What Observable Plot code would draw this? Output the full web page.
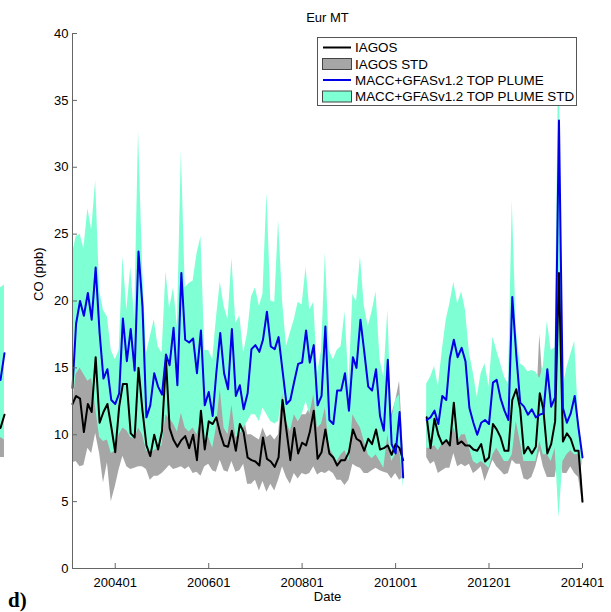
<!DOCTYPE html>
<html><head><meta charset="utf-8">
<script src="https://cdn.jsdelivr.net/npm/d3@7"></script>
<script src="https://cdn.jsdelivr.net/npm/@observablehq/plot@0.6"></script>
<style>
body{margin:0;background:#fff;}
#wrap{position:relative;width:611px;height:612px;overflow:hidden;font-family:"Liberation Sans",Arial,sans-serif;}
#wrap > svg{position:absolute;left:0;top:0;}
#panelLabel{position:absolute;left:8px;top:588px;font-family:"Liberation Serif","Times New Roman",serif;font-weight:bold;font-size:21px;line-height:24px;}
</style></head><body><div id="wrap"></div>
<script>
const title = "Eur MT";
const yLabel = "CO (ppb)";
const xLabel = "Date";
const xTickLabels = ["200401","200601","200801","201001","201201","201401"];
const yTicks = [0,5,10,15,20,25,30,35,40];
const legendLabels = ["IAGOS","IAGOS STD","MACC+GFASv1.2 TOP PLUME","MACC+GFASv1.2 TOP PLUME STD"];
const colIagos = "#000000", colIagosStd = "#a6a6a6", colMacc = "#0000e6", colMaccStd = "#7fffd4";

// monthly values Feb 2003 .. Jan 2014 (null = no data)
const iagos = [12.3,12.9,12.7,10.2,12.3,11.7,15.8,10.9,11.7,12.3,
10.6,8.7,12.1,13.8,13.8,10.1,9.8,15.0,11.8,9.2,
8.4,10.0,8.9,10.3,15.6,10.5,9.6,9.1,9.6,9.9,
9.0,10.0,8.1,11.8,8.9,11.0,10.8,11.3,10.1,9.2,
9.1,10.3,8.8,10.8,10.2,8.3,8.1,8.0,7.7,9.8,
8.2,8.0,7.6,8.3,12.6,10.3,8.1,10.5,8.6,9.4,
9.2,10.2,11.8,8.2,8.7,10.4,8.6,8.3,7.7,8.1,
8.1,8.7,10.4,9.7,9.5,8.8,9.7,9.3,10.4,8.9,
9.0,9.2,8.5,9.3,9.0,8.1,
null,null,null,null,null,
11.3,9.0,11.2,10.0,9.3,9.6,9.2,12.4,9.3,
9.5,9.2,9.2,8.9,8.8,9.3,8.0,8.3,10.8,10.4,
9.8,8.8,8.8,12.6,13.4,11.9,8.6,9.1,8.6,9.1,
13.1,11.9,8.6,9.3,11.0,22.1,9.5,10.1,9.7,8.8,8.8,5.0];
const iagosLo = [7.9,8.0,7.6,7.7,9.0,8.6,10.1,8.6,6.4,7.9,
5.0,6.1,7.4,8.4,7.6,7.4,7.5,7.6,7.6,7.4,
6.6,6.9,6.9,7.1,7.4,7.7,7.4,7.5,7.6,7.4,
7.6,7.1,7.2,6.9,7.6,7.8,7.3,7.2,8.1,7.3,
7.2,8.0,7.2,7.3,7.8,6.3,6.3,6.6,5.8,6.5,
5.7,6.3,5.8,6.6,7.6,6.8,6.3,7.1,6.7,7.1,
7.0,7.1,7.6,7.0,7.2,7.1,7.3,7.1,6.6,6.6,
6.2,6.6,7.8,7.6,7.5,7.1,7.1,7.3,7.5,7.3,
7.2,7.1,6.7,7.1,6.6,6.8,
null,null,null,null,null,
8.3,7.8,8.0,7.1,7.3,7.5,7.5,8.6,7.6,
7.8,7.6,7.8,7.1,7.3,7.6,6.5,7.3,8.1,7.6,
7.3,7.0,7.1,8.1,7.8,7.8,6.7,6.6,6.8,7.6,
8.8,7.6,6.8,6.8,6.8,8.6,7.1,7.1,7.6,7.1,6.8,4.8];
const iagosHi = [15.5,15.3,15.2,14.6,14.8,14.6,16.3,13.0,12.5,13.0,
12.5,11.5,13.5,14.5,14.5,12.0,12.0,16.3,13.5,11.5,
10.8,11.5,11.0,12.0,17.0,13.0,12.0,11.5,12.5,12.0,
11.5,12.0,11.0,13.0,11.0,12.5,12.5,13.0,13.8,11.5,
11.0,12.5,11.0,12.0,11.5,10.0,10.0,9.8,9.6,10.5,
9.8,10.0,9.6,10.0,13.5,12.0,10.5,12.5,11.0,11.5,
11.5,12.0,13.5,11.0,11.0,13.0,11.0,10.5,10.0,10.0,
10.0,10.5,11.7,11.5,11.5,11.0,11.5,11.5,12.0,11.0,
11.0,11.5,11.5,12.5,14.0,9.0,
null,null,null,null,null,
11.8,11.0,12.5,11.5,11.0,11.5,11.5,14.5,11.5,
11.5,11.0,11.0,10.5,10.5,11.0,10.0,10.5,12.5,12.0,
11.5,11.0,11.0,14.5,15.0,13.5,11.0,11.0,10.5,11.0,
17.5,13.5,11.0,11.5,12.5,24.0,11.5,12.0,11.5,11.0,11.0,6.0];
const macc = [13.5,18.3,20.0,18.9,20.6,18.6,22.5,17.6,14.2,14.9,
12.6,12.3,13.1,18.7,15.5,17.9,14.8,23.7,19.6,11.3,
12.2,14.6,13.6,13.0,16.0,15.2,18.0,13.7,22.1,17.1,
16.9,17.2,14.6,17.8,12.2,13.2,11.4,14.6,17.6,14.6,
13.4,17.9,12.9,13.7,11.9,13.1,16.4,16.7,16.2,17.1,
19.2,16.6,16.4,17.3,14.8,12.3,12.6,14.0,15.3,15.4,
17.8,15.4,16.7,12.2,12.9,18.1,11.1,10.8,13.3,13.3,
14.6,11.8,15.8,15.0,18.6,16.2,13.6,13.3,14.9,11.4,
10.3,15.6,9.3,8.6,11.7,6.8,
null,null,null,null,null,
11.1,11.3,11.8,10.8,12.9,12.6,15.7,17.1,15.8,
16.5,15.5,12.0,10.9,10.0,10.9,11.1,10.8,13.9,14.1,
12.7,11.8,11.1,20.3,16.0,12.4,12.1,11.5,11.9,11.3,
11.5,11.6,14.9,12.1,12.8,33.5,12.0,10.9,11.6,12.9,10.5,8.3];
const maccLo = [12.0,14.5,15.0,14.5,14.0,14.2,12.0,9.8,9.5,9.6,
8.6,8.8,10.0,10.5,10.3,9.8,9.7,10.5,10.0,8.8,
8.6,8.8,9.0,9.2,11.5,11.2,10.8,10.2,11.6,10.5,
10.2,10.5,10.0,11.0,9.5,9.8,9.0,10.5,13.4,10.5,
10.0,12.2,9.8,10.0,10.5,11.0,11.5,11.5,11.0,12.0,
11.5,11.0,10.8,11.0,13.0,11.0,10.2,11.5,11.0,11.5,
12.5,11.5,13.0,10.5,10.8,12.0,9.0,8.5,8.0,8.5,
8.8,8.0,11.5,11.0,10.5,9.5,8.5,8.2,8.5,8.0,
7.5,10.0,8.0,8.5,9.0,6.0,
null,null,null,null,null,
9.0,9.0,9.2,8.8,9.3,9.5,9.5,10.5,9.5,
10.0,10.0,9.0,8.0,7.8,8.0,7.8,7.5,8.5,9.0,
8.5,8.0,8.0,8.5,11.0,9.5,8.0,8.0,8.0,8.0,
9.5,8.5,8.5,8.0,9.0,3.8,8.0,8.5,8.8,8.5,8.5,7.6];
const maccHi = [23.5,24.8,25.0,23.9,26.9,25.3,29.0,20.8,19.3,18.8,
16.3,15.6,16.3,23.3,19.3,22.5,18.6,32.7,22.8,16.1,
17.3,18.6,16.6,16.1,22.2,19.4,21.0,18.1,31.2,21.0,
21.3,21.5,23.5,24.8,16.3,16.3,15.6,18.6,21.4,19.6,
18.6,23.2,18.3,18.9,16.1,17.6,20.3,21.0,19.6,20.5,
28.1,20.0,19.9,26.0,20.0,16.6,17.6,18.6,19.9,19.7,
22.5,19.3,19.9,14.6,16.3,23.6,16.3,15.6,16.3,16.6,
19.2,13.8,20.5,19.9,23.3,19.6,18.1,19.2,20.7,15.6,
14.3,19.3,11.1,12.6,13.0,7.6,
null,null,null,null,null,
13.8,14.3,15.1,13.6,16.3,18.6,19.8,21.4,19.8,
20.7,19.3,16.1,14.6,12.8,14.6,15.3,13.6,17.3,16.3,
15.3,14.3,13.8,27.5,17.9,15.3,15.1,14.7,14.8,14.7,
14.2,15.1,18.5,16.3,16.5,40.0,13.5,15.0,16.0,17.0,11.1,8.8];

// fragment of neighbouring panel at the left edge
const fragX = [0, 1];
const fragIagos = [10.5, 11.5];
const fragIagosLo = [8.3, 8.3];
const fragIagosHi = [12.0, 12.0];
const fragMacc = [14.1, 16.1];
const fragMaccLo = [9.8, 9.6];
const fragMaccHi = [21.0, 21.2];
const panelLabel = "d)";

const months = d3.utcMonth.range(new Date(Date.UTC(2003,1,1)), new Date(Date.UTC(2014,1,1)));
const rows = months.map((date,i) => ({date, iagos: iagos[i], iagosLo: iagosLo[i], iagosHi: iagosHi[i], macc: macc[i], maccLo: maccLo[i], maccHi: maccHi[i]}));
const xTicks = xTickLabels.map(d3.utcParse("%Y%m"));
const xDomain = [months[0], months[months.length-1]];
const axisCol = "#666666";

const chart = Plot.plot({
  width: 611, height: 612,
  marginLeft: 72, marginRight: 29, marginTop: 33, marginBottom: 44,
  style: {fontFamily: "'Liberation Sans', Arial, sans-serif", fontSize: "13px", background: "transparent", color: "black", overflow: "visible"},
  x: {type: "utc", domain: xDomain},
  y: {domain: [0, 40]},
  marks: [
    Plot.areaY(rows, {x: "date", y1: "iagosLo", y2: "iagosHi", fill: colIagosStd}),
    Plot.areaY(rows, {x: "date", y1: "maccLo", y2: "maccHi", fill: colMaccStd}),
    Plot.lineY(rows, {x: "date", y: "iagos", stroke: colIagos, strokeWidth: 2}),
    Plot.lineY(rows, {x: "date", y: "macc", stroke: colMacc, strokeWidth: 2}),
    Plot.ruleX([xDomain[0]], {stroke: axisCol}),
    Plot.ruleY([0], {stroke: axisCol}),
    Plot.axisX({ticks: xTicks, tickFormat: d3.utcFormat("%Y%m"), tickSize: -5, tickPadding: 14, stroke: axisCol, fill: "black", label: null}),
    Plot.axisY({ticks: yTicks, tickSize: -5, tickPadding: 9, stroke: axisCol, fill: "black", label: null}),
    Plot.text([title], {frameAnchor: "top", lineAnchor: "middle", dy: -16, text: d => d}),
    Plot.text([yLabel], {frameAnchor: "left", lineAnchor: "middle", dx: -34, rotate: -90, text: d => d}),
    Plot.text([xLabel], {frameAnchor: "bottom", lineAnchor: "middle", dy: 28, text: d => d})
  ]
});

const fragRows = fragX.map((x,i) => ({x, iagos: fragIagos[i], iagosLo: fragIagosLo[i], iagosHi: fragIagosHi[i], macc: fragMacc[i], maccLo: fragMaccLo[i], maccHi: fragMaccHi[i]}));
const frag = Plot.plot({
  width: 4, height: 612,
  marginLeft: 0, marginRight: 0, marginTop: 33, marginBottom: 44,
  style: {background: "transparent", overflow: "visible"},
  x: {domain: [0, 1], axis: null},
  y: {domain: [0, 40], axis: null},
  marks: [
    Plot.areaY(fragRows, {x: "x", y1: "iagosLo", y2: "iagosHi", fill: colIagosStd}),
    Plot.areaY(fragRows, {x: "x", y1: "maccLo", y2: "maccHi", fill: colMaccStd}),
    Plot.lineY(fragRows, {x: "x", y: "iagos", stroke: colIagos, strokeWidth: 2}),
    Plot.lineY(fragRows, {x: "x", y: "macc", stroke: colMacc, strokeWidth: 2})
  ]
});

const wrap = document.getElementById("wrap");
wrap.appendChild(chart);
wrap.appendChild(frag);

// legend
const leg = d3.select(wrap).append("svg")
  .attr("width", 262).attr("height", 71)
  .style("position", "absolute").style("left", "316px").style("top", "36px")
  .style("font-family", "'Liberation Sans', Arial, sans-serif").style("font-size", "13.4px");
leg.append("rect").attr("x", 1.5).attr("y", 1.5).attr("width", 259).attr("height", 68)
  .attr("fill", "white").attr("stroke", "#555").attr("stroke-width", 1);
const rowY = [11.5, 28, 44, 60.5];
const kinds = ["line","patch","line","patch"];
const cols = [colIagos, colIagosStd, colMacc, colMaccStd];
legendLabels.forEach((lab, i) => {
  if (kinds[i] === "line") {
    leg.append("line").attr("x1", 7).attr("x2", 35).attr("y1", rowY[i]).attr("y2", rowY[i])
      .attr("stroke", cols[i]).attr("stroke-width", 2);
  } else {
    leg.append("rect").attr("x", 6.5).attr("y", rowY[i] - 5.5).attr("width", 29).attr("height", 11)
      .attr("fill", cols[i]).attr("stroke", "#444").attr("stroke-width", 1);
  }
  leg.append("text").attr("x", 39).attr("y", rowY[i]).attr("dy", "0.36em").text(lab);
});

const pl = document.createElement("div");
pl.id = "panelLabel";
pl.textContent = panelLabel;
wrap.appendChild(pl);
</script></body></html>
